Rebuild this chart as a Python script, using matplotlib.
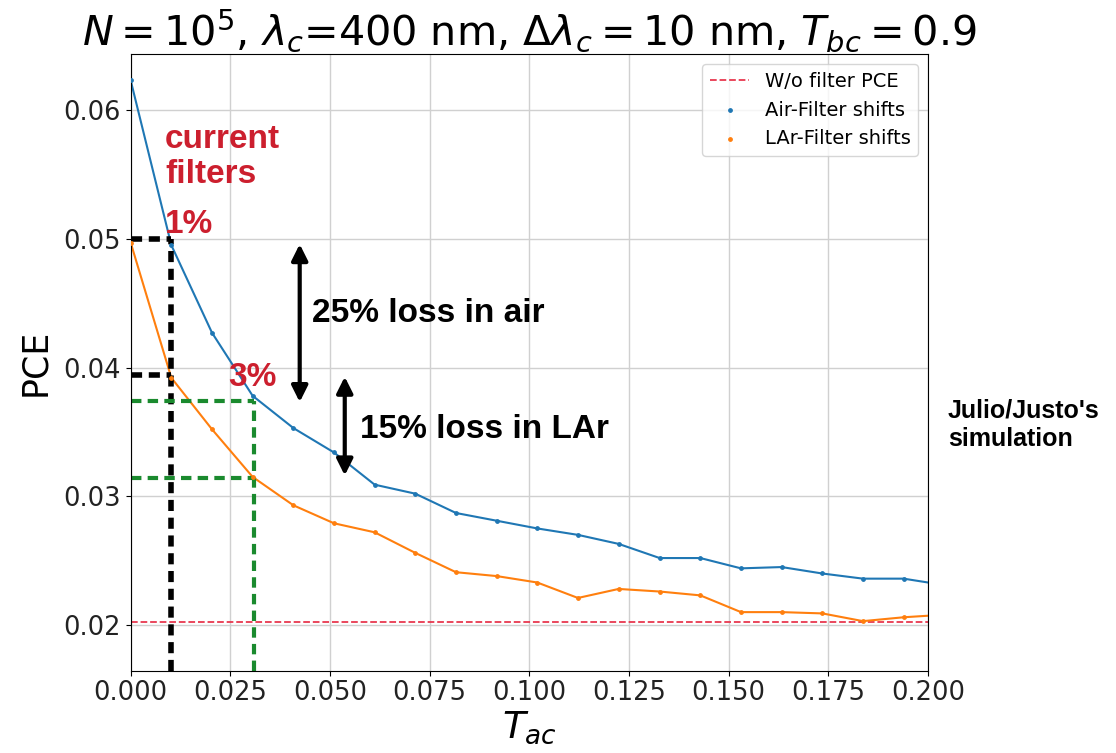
import matplotlib
matplotlib.use('Agg')
import matplotlib.pyplot as plt

# dados
t_ac = [0.0, 0.0102, 0.0204, 0.0306, 0.0408, 0.0510, 0.0612, 0.0714, 0.0816, 0.0918,
        0.1020, 0.1122, 0.1224, 0.1327, 0.1429, 0.1531, 0.1633, 0.1735, 0.1837, 0.1939, 0.2041]
pce_air = [0.0623, 0.0495, 0.0427, 0.0378, 0.0353, 0.0334, 0.0309, 0.0302, 0.0287, 0.0281,
           0.0275, 0.0270, 0.0263, 0.0252, 0.0252, 0.0244, 0.0245, 0.0240, 0.0236, 0.0236, 0.0231]
pce_lar = [0.0497, 0.0392, 0.0352, 0.0315, 0.0293, 0.0279, 0.0272, 0.0256, 0.0241, 0.0238,
           0.0233, 0.0221, 0.0228, 0.0226, 0.0223, 0.0210, 0.0210, 0.0209, 0.0203, 0.0206, 0.0208]
pce_sem_filtro = 0.0202

# marcadores dos filtros atuais (1% e 3%)
t_1pct = 0.0100
t_3pct = 0.0310
air_1pct, lar_1pct = 0.0500, 0.0394
air_3pct, lar_3pct = 0.0374, 0.0314

y_min, y_max = 0.01645, 0.06433

fig = plt.figure(figsize=(11.16, 7.53), dpi=100)
ax = fig.add_axes([0.1171, 0.1093, 0.7144, 0.8186])

ax.axhline(pce_sem_filtro, color='#e8384f', ls='--', lw=1.3, label='W/o filter PCE')
ax.plot(t_ac, pce_air, color='#1f77b4', lw=1.5)
ax.plot(t_ac, pce_lar, color='#ff7f0e', lw=1.5)
ax.scatter(t_ac, pce_air, s=6, color='#1f77b4', label='Air-Filter shifts', zorder=3)
ax.scatter(t_ac, pce_lar, s=6, color='#ff7f0e', label='LAr-Filter shifts', zorder=3)

ax.set_xlim(0, 0.2)
ax.set_ylim(y_min, y_max)
ax.set_xticks([0, 0.025, 0.05, 0.075, 0.1, 0.125, 0.15, 0.175, 0.2])
ax.set_yticks([0.02, 0.03, 0.04, 0.05, 0.06])
ax.tick_params(labelsize=18.5, labelcolor='#222222')
ax.grid(True, color='#d0d0d0', lw=1)

ax.set_xlabel('$T_{ac}$', fontsize=27, labelpad=2)
ax.set_ylabel('PCE', fontsize=25, labelpad=8)
ax.set_title(r'$N=10^5$, $\lambda_c$=400 nm, $\Delta\lambda_c=10$ nm, $T_{bc}=0.9$', fontsize=29.7, pad=6)

ax.legend(loc='upper right', fontsize=14, markerscale=1.0, handlelength=2.0)

# linhas tracejadas dos filtros
ax.plot([0, t_1pct], [air_1pct, air_1pct], color='black', ls=(0, (2, 1.2)), lw=4)
ax.plot([0, t_1pct], [lar_1pct, lar_1pct], color='black', ls=(0, (2, 1.2)), lw=4)
ax.plot([t_1pct, t_1pct], [y_min, air_1pct], color='black', ls=(0, (2, 1.2)), lw=4)
ax.plot([0, t_3pct], [air_3pct, air_3pct], color='#1a8a2e', ls=(0, (2.5, 1.5)), lw=3)
ax.plot([0, t_3pct], [lar_3pct, lar_3pct], color='#1a8a2e', ls=(0, (2.5, 1.5)), lw=3)
ax.plot([t_3pct, t_3pct], [y_min, air_3pct], color='#1a8a2e', ls=(0, (2.5, 1.5)), lw=3)

# setas
seta = dict(arrowstyle='<|-|>', color='black', lw=3, mutation_scale=24)
ax.annotate('', xy=(0.0424, 0.0498), xytext=(0.0424, 0.0371), arrowprops=seta)
ax.annotate('', xy=(0.0537, 0.0395), xytext=(0.0537, 0.0314), arrowprops=seta)

fonte = 'Liberation Sans'
vermelho = '#cc1f2e'
ax.text(0.0455, 0.0442, '25% loss in air', fontsize=24, fontweight='bold', family=fonte, va='center')
ax.text(0.0576, 0.03515, '15% loss in LAr', fontsize=24, fontweight='bold', family=fonte, va='center')
ax.text(0.0086, 0.05635, 'current\nfilters', fontsize=24, fontweight='bold', family=fonte,
        color=vermelho, va='center', linespacing=1.15)
ax.text(0.0086, 0.0511, '1%', fontsize=24, fontweight='bold', family=fonte, color=vermelho, va='center')
ax.text(0.0244, 0.0392, '3%', fontsize=24, fontweight='bold', family=fonte, color=vermelho, va='center')
fig.text(0.8495, 0.4356, "Julio/Justo's\nsimulation", fontsize=18, fontweight='bold', family=fonte,
         va='center', linespacing=1.25)

fig.savefig('out.png', dpi=100)
